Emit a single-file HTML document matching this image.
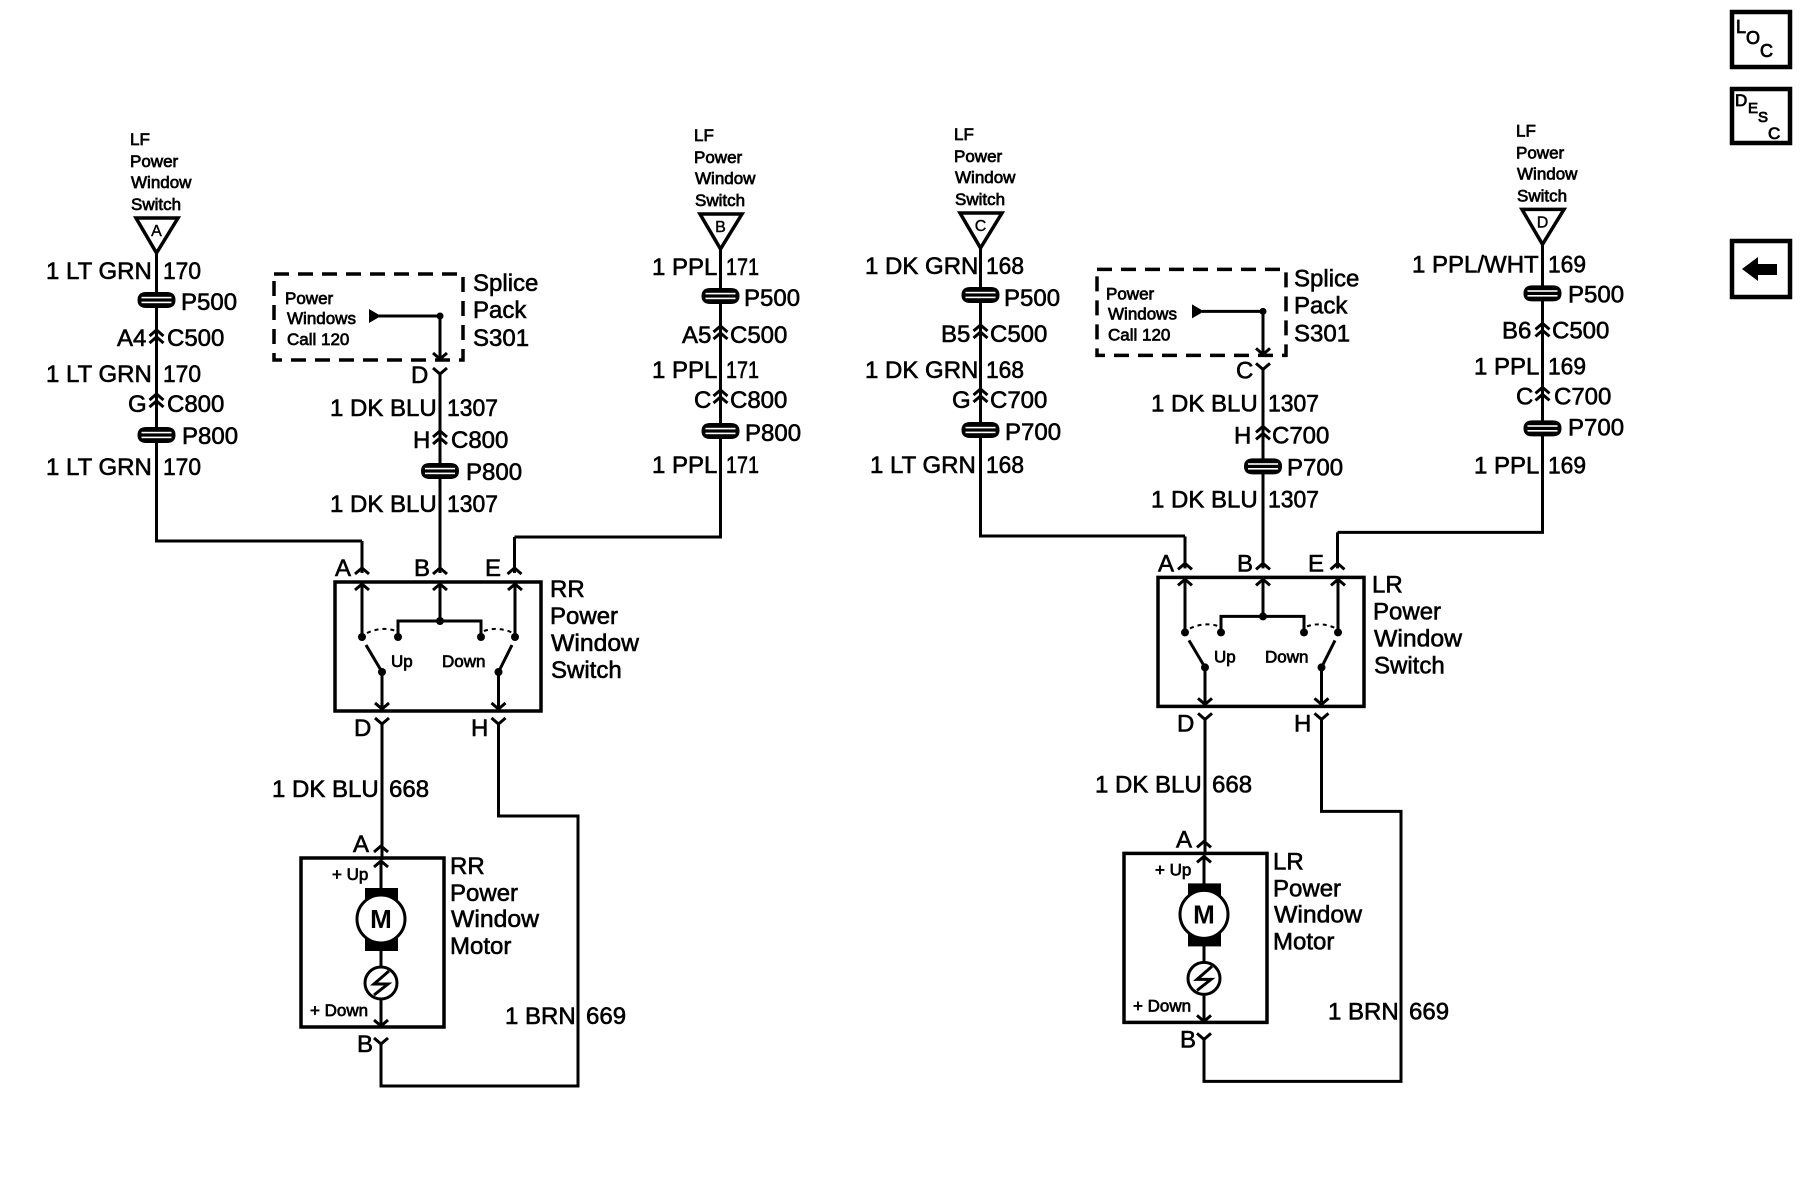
<!DOCTYPE html>
<html><head><meta charset="utf-8"><style>
html,body{margin:0;padding:0;background:#fff}
svg{display:block}
text{font-family:"Liberation Sans",sans-serif;fill:#000;stroke:#000}
.l{font-size:24px;stroke-width:.6px}
.s{font-size:17px;stroke-width:.7px}
.w{fill:none;stroke:#000;stroke-width:3}
</style></head><body>
<svg width="1804" height="1200" viewBox="0 0 1804 1200" xmlns="http://www.w3.org/2000/svg">
<rect width="1804" height="1200" fill="#fff"/>
<defs>
<path id="up" d="M-7 6L0 0L7 6" fill="none" stroke="#000" stroke-width="3"/>
<path id="dn" d="M-7 -6L0 0L7 -6" fill="none" stroke="#000" stroke-width="3"/>
<g id="cc"><use href="#up"/><use href="#up" y="7"/></g>
<g id="pp"><path d="M-19 0Q-19 -8 -10 -8H10Q19 -8 19 0Q19 8 10 8H-10Q-19 8 -19 0Z" fill="#000"/><rect x="-15" y="-3.2" width="30" height="1.6" fill="#fff"/><rect x="-15" y="1.6" width="30" height="1.6" fill="#fff"/></g>
<g id="colb">
<path d="M136 218H178L156.5 253Z" fill="#fff" stroke="#000" stroke-width="3.5"/>
<path class="w" d="M156.5 253V541"/>
</g>
<g id="colc">
<use href="#pp" x="156.5" y="300"/>
<use href="#cc" x="156.5" y="330"/>
<use href="#cc" x="156.5" y="394"/>
<use href="#pp" x="156.5" y="435"/>
</g>
<g id="half">
<path d="M274 274H463V360H274Z" fill="none" stroke="#000" stroke-width="3.5" stroke-dasharray="15 9"/>
<path d="M369 309L381 316L369 323Z" fill="#000"/>
<path class="w" d="M379 316H440V357"/><circle cx="440" cy="316" r="3.5"/>
<use href="#dn" x="440" y="359"/>
<use href="#dn" x="440" y="374"/>
<path class="w" d="M440 374V573"/>
<use href="#cc" x="440" y="431"/>
<use href="#pp" x="440" y="471"/>
<path class="w" d="M362 541V573M514.5 537V573"/>
<use href="#up" x="362" y="568"/><use href="#up" x="440" y="568"/><use href="#up" x="514.5" y="568"/>
<rect x="335" y="582" width="206" height="129" fill="none" stroke="#000" stroke-width="3.5"/>
<path class="w" d="M362 584V637M440 584V621M398 637V621H481V637M515 584V637M382 672V708M498.5 672V708"/>
<use href="#up" x="362" y="584"/><use href="#up" x="440" y="584"/><use href="#up" x="515" y="584"/>
<circle cx="362" cy="637" r="4"/><circle cx="398" cy="637" r="4"/><circle cx="440" cy="621" r="4"/><circle cx="481" cy="637" r="4"/><circle cx="515" cy="637" r="4"/>
<circle cx="382" cy="672" r="4"/><circle cx="498.5" cy="672" r="4"/>
<path d="M367 633Q382 626 396 631M484 631Q498 626 513 633" fill="none" stroke="#000" stroke-width="2" stroke-dasharray="4 4"/>
<path class="w" d="M366 645L382 672M512 645L498.5 672"/>
<use href="#dn" x="382" y="709"/><use href="#dn" x="498.5" y="709"/>
<use href="#dn" x="382" y="724"/><use href="#dn" x="498.5" y="724"/>
<path class="w" d="M382 724V860M498.5 724V816H578V1086H381V1044"/>
<use href="#up" x="381" y="846"/>
<rect x="301" y="858" width="143" height="169" fill="none" stroke="#000" stroke-width="3.5"/>
<use href="#up" x="381" y="861"/>
<path class="w" d="M381 861V1026"/>
<rect x="365" y="888" width="33" height="63" fill="#000"/>
<circle cx="381" cy="919" r="24" fill="#fff" stroke="#000" stroke-width="3"/>
<circle cx="381" cy="983" r="16" fill="#fff" stroke="#000" stroke-width="3"/>
<path d="M374 995L388 984L374 984L389 971" fill="none" stroke="#000" stroke-width="3"/>
<use href="#dn" x="381" y="1026"/>
<use href="#dn" x="381" y="1044"/>
</g>
<g id="utxt">
<text class="l" x="473" y="291">Splice</text><text class="l" x="473" y="318">Pack</text><text class="l" x="473" y="346">S301</text>
<text class="s" x="285" y="304">Power</text><text class="s" x="287" y="324">Windows</text><text class="s" x="287" y="345">Call 120</text>
<text class="l" x="330" y="416">1 DK BLU</text><text class="l" x="447" y="416" textLength="51" lengthAdjust="spacingAndGlyphs">1307</text>
<text class="l" x="413" y="448">H</text>
<text class="l" x="330" y="512">1 DK BLU</text><text class="l" x="447" y="512" textLength="51" lengthAdjust="spacingAndGlyphs">1307</text>
</g>
<g id="htxt">
<text class="l" x="335" y="576">A</text><text class="l" x="414" y="576">B</text><text class="l" x="485" y="576">E</text>
<text class="s" x="391" y="667">Up</text><text class="s" x="442" y="667">Down</text>
<text class="l" x="550" y="624">Power</text><text class="l" x="551" y="651" textLength="88" lengthAdjust="spacingAndGlyphs">Window</text><text class="l" x="551" y="678">Switch</text>
<text class="l" x="354" y="736">D</text><text class="l" x="471" y="736">H</text>
<text class="l" x="272" y="797">1 DK BLU</text><text class="l" x="389" y="797">668</text>
<text class="l" x="353" y="852">A</text>
<text class="s" x="332" y="880">+ Up</text><text class="s" x="310" y="1016">+ Down</text>
<text x="381" y="928" text-anchor="middle" font-size="26" font-weight="bold" stroke-width="0">M</text>
<text class="l" x="450" y="901">Power</text><text class="l" x="451" y="927" textLength="88" lengthAdjust="spacingAndGlyphs">Window</text><text class="l" x="450" y="954">Motor</text>
<text class="l" x="505" y="1024">1 BRN</text><text class="l" x="586" y="1024">669</text>
<text class="l" x="357" y="1052">B</text>
</g>
<g id="lf">
<text class="s" x="130" y="145">LF</text><text class="s" x="130" y="167">Power</text><text class="s" x="131" y="188">Window</text><text class="s" x="131" y="210">Switch</text>
</g>
</defs>

<!-- left half -->
<use href="#half"/><use href="#htxt"/><use href="#utxt"/>
<use href="#colb"/><use href="#colc"/><use href="#lf"/>
<path class="w" d="M155 541H362"/>
<text x="156.5" y="236" text-anchor="middle" font-size="16" stroke-width=".4">A</text>
<text class="l" x="46" y="279">1 LT GRN</text><text class="l" x="163" y="279" textLength="38" lengthAdjust="spacingAndGlyphs">170</text>
<text class="l" x="181" y="310">P500</text>
<text class="l" x="117" y="346">A4</text><text class="l" x="167" y="346">C500</text>
<text class="l" x="46" y="382">1 LT GRN</text><text class="l" x="163" y="382" textLength="38" lengthAdjust="spacingAndGlyphs">170</text>
<text class="l" x="128" y="412">G</text><text class="l" x="167" y="412">C800</text>
<text class="l" x="182" y="444">P800</text>
<text class="l" x="46" y="475">1 LT GRN</text><text class="l" x="163" y="475" textLength="38" lengthAdjust="spacingAndGlyphs">170</text>
<text class="l" x="411" y="383">D</text>
<text class="l" x="451" y="448">C800</text>
<text class="l" x="466" y="480">P800</text>
<text class="l" x="550" y="597">RR</text>
<text class="l" x="450" y="874">RR</text>

<!-- column E -->
<g transform="translate(564,-4)">
<use href="#colb"/><use href="#colc"/><use href="#lf"/>
<text x="156.5" y="236" text-anchor="middle" font-size="16" stroke-width=".4">B</text>
<text class="l" x="88" y="279">1 PPL</text><text class="l" x="162" y="279" textLength="33" lengthAdjust="spacingAndGlyphs">171</text>
<text class="l" x="180" y="310">P500</text>
<text class="l" x="118" y="347">A5</text><text class="l" x="166" y="347">C500</text>
<text class="l" x="88" y="382">1 PPL</text><text class="l" x="162" y="382" textLength="33" lengthAdjust="spacingAndGlyphs">171</text>
<text class="l" x="130" y="412">C</text><text class="l" x="166" y="412">C800</text>
<text class="l" x="181" y="445">P800</text>
<text class="l" x="88" y="477">1 PPL</text><text class="l" x="162" y="477" textLength="33" lengthAdjust="spacingAndGlyphs">171</text>
</g>
<path class="w" d="M722 537H514.5"/>

<!-- right half -->
<g transform="translate(823,-4.6)">
<use href="#half"/><use href="#htxt"/><use href="#utxt" x="-2"/>
<text class="l" x="413" y="383">C</text>
<text class="l" x="449" y="448">C700</text>
<text class="l" x="464" y="480">P700</text>
<text class="l" x="549" y="597">LR</text>
<text class="l" x="450" y="874">LR</text>
</g>
<g transform="translate(824,-5)">
<use href="#colb"/><use href="#colc"/><use href="#lf"/>
<text x="156.5" y="236" text-anchor="middle" font-size="16" stroke-width=".4">C</text>
<text class="l" x="41" y="279">1 DK GRN</text><text class="l" x="162" y="279" textLength="38" lengthAdjust="spacingAndGlyphs">168</text>
<text class="l" x="180" y="311">P500</text>
<text class="l" x="117" y="347">B5</text><text class="l" x="166" y="347">C500</text>
<text class="l" x="41" y="383">1 DK GRN</text><text class="l" x="162" y="383" textLength="38" lengthAdjust="spacingAndGlyphs">168</text>
<text class="l" x="128" y="413">G</text><text class="l" x="166" y="413">C700</text>
<text class="l" x="181" y="445">P700</text>
<text class="l" x="46" y="478">1 LT GRN</text><text class="l" x="162" y="478" textLength="38" lengthAdjust="spacingAndGlyphs">168</text>
</g>
<path class="w" d="M979 536H1185"/>

<!-- column D -->
<g transform="translate(1386,-8.6)">
<use href="#colb"/><use href="#colc" y="2"/><use href="#lf"/>
<text x="156.5" y="236" text-anchor="middle" font-size="16" stroke-width=".4">D</text>
<text class="l" x="26" y="281">1 PPL/WHT</text><text class="l" x="162" y="281" textLength="38" lengthAdjust="spacingAndGlyphs">169</text>
<text class="l" x="182" y="311">P500</text>
<text class="l" x="116" y="347">B6</text><text class="l" x="166" y="347">C500</text>
<text class="l" x="88" y="383">1 PPL</text><text class="l" x="162" y="383" textLength="38" lengthAdjust="spacingAndGlyphs">169</text>
<text class="l" x="130" y="413">C</text><text class="l" x="168" y="413">C700</text>
<text class="l" x="182" y="444">P700</text>
<text class="l" x="88" y="482">1 PPL</text><text class="l" x="162" y="482" textLength="38" lengthAdjust="spacingAndGlyphs">169</text>
</g>
<path class="w" d="M1544 532.4H1337.5"/>

<!-- icons -->
<g fill="#fff" stroke="#000" stroke-width="4.5">
<rect x="1739" y="12" width="58" height="55" transform="translate(-7,0)"/>
<rect x="1739" y="89" width="58" height="54" transform="translate(-7,0)"/>
<rect x="1739" y="241" width="58" height="56" transform="translate(-7,0)"/>
</g>
<g font-size="18" stroke-width=".8" transform="translate(-7,0)">
<text x="1743" y="33">L</text><text x="1753" y="44">O</text><text x="1767" y="57">C</text>
<text x="1742" y="106" font-size="17">D</text><text x="1755" y="113" font-size="15">E</text><text x="1765" y="122" font-size="15">S</text><text x="1775" y="139" font-size="17">C</text>
</g>
<path d="M1742 269L1758 257V264H1777V275H1758V281Z" fill="#000"/>
</svg>
</body></html>
